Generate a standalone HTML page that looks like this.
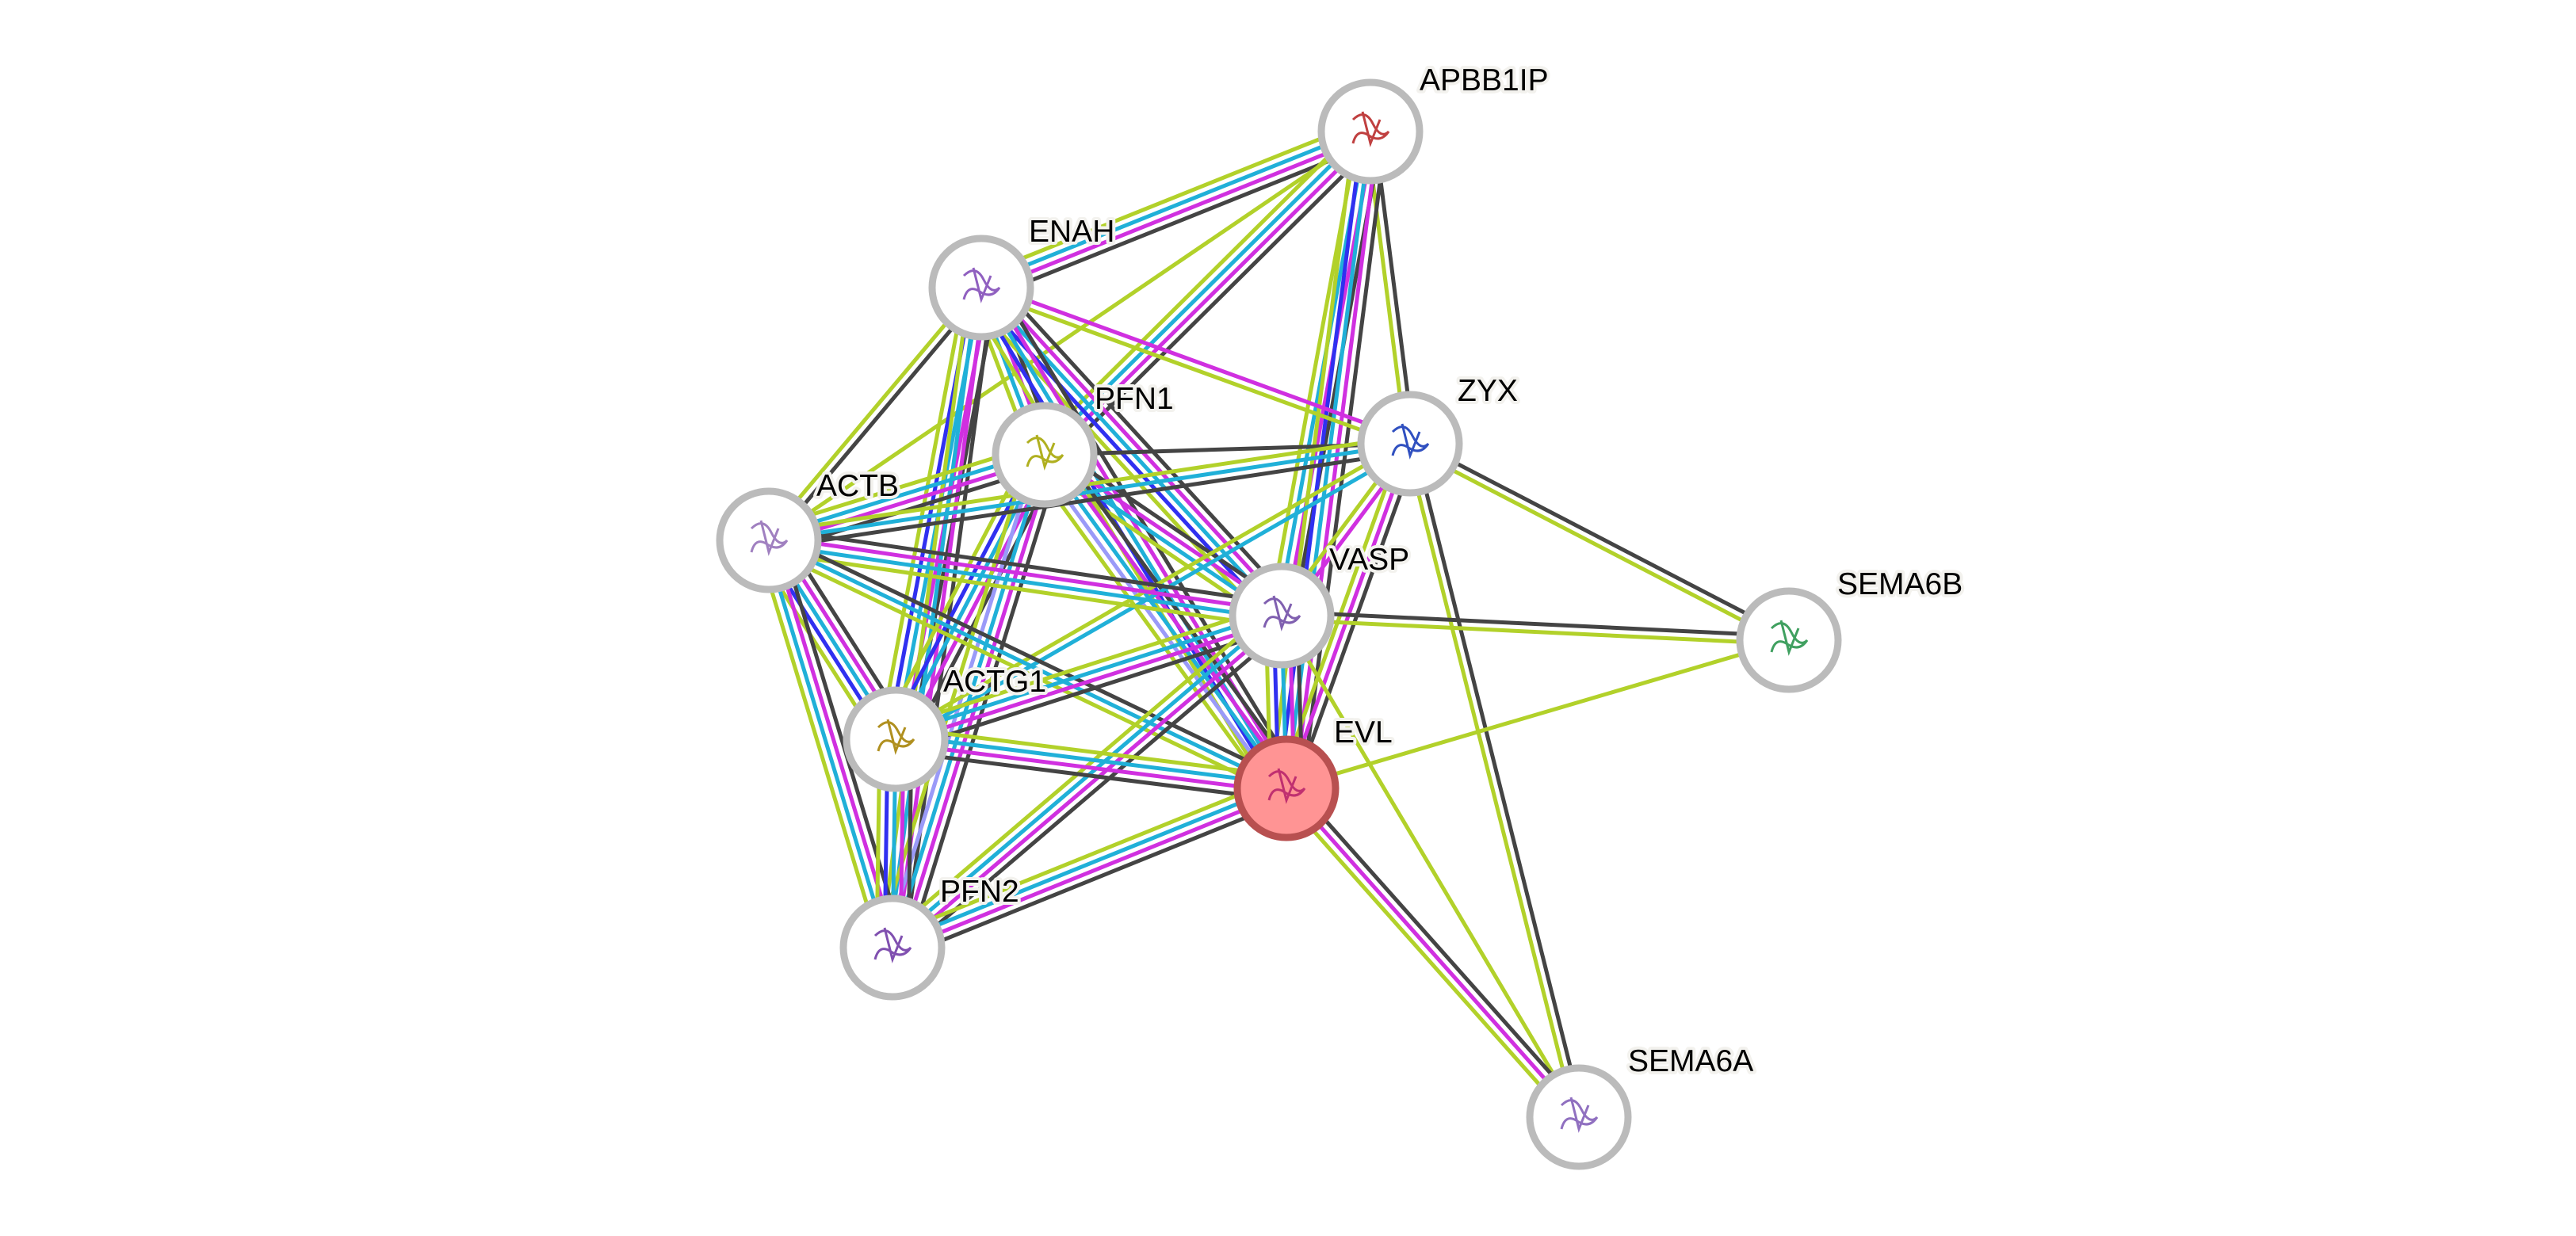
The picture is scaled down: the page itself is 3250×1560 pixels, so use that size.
<!DOCTYPE html>
<html><head><meta charset="utf-8"><style>
html,body{margin:0;padding:0;background:#fff;width:3250px;height:1560px;overflow:hidden}
svg{display:block}
text{font-family:"Liberation Sans",sans-serif;font-size:39px;fill:#000;paint-order:stroke;stroke:#f3f2ee;stroke-width:8px;stroke-linejoin:round}
</style></head><body>
<svg id="s" width="3250" height="1560" xmlns="http://www.w3.org/2000/svg">
<g id="edges"></g><g id="nodes"></g><g id="labels"></g>
</svg>
<script>
var N={APBB1IP:[1729,166],ENAH:[1238,363],PFN1:[1318,574],ZYX:[1779,560],ACTB:[970,682],VASP:[1617,777],SEMA6B:[2257,808],ACTG1:[1130,933],EVL:[1623,995],PFN2:[1126,1196],SEMA6A:[1992,1410]};
var C={k:"#444",m:"#d030e0",c:"#20b0d8",g:"#b2d12a",b:"#3030f0",l:"#9a9af8"};
var E=[
["APBB1IP","ENAH","kmcg"],["APBB1IP","ACTB","g"],["APBB1IP","PFN1","kmcg"],["APBB1IP","ZYX","kg"],
["APBB1IP","VASP","kmcg"],["APBB1IP","EVL","kmcbg"],
["ENAH","ZYX","mg"],["ENAH","ACTB","kg"],["ENAH","PFN1","kmcg"],["ENAH","VASP","kmcbg"],["ENAH","EVL","kmcbg"],
["ENAH","ACTG1","kmcbg"],["ENAH","PFN2","kmcg"],
["PFN1","ZYX","k"],["PFN1","ACTB","kmcg"],["PFN1","VASP","kmcg"],["PFN1","EVL","kmclg"],["PFN1","ACTG1","kmcbg"],["PFN1","PFN2","kmclg"],
["ZYX","ACTB","kcg"],["ZYX","VASP","mg"],["ZYX","EVL","kmg"],["ZYX","SEMA6B","kg"],["ZYX","SEMA6A","kg"],["ZYX","ACTG1","cg"],
["ACTB","VASP","kmcg"],["ACTB","EVL","kcg"],["ACTB","ACTG1","kmcbg"],["ACTB","PFN2","kmcg"],
["VASP","SEMA6B","kg"],["VASP","EVL","kmcbg"],["VASP","ACTG1","kmcg"],["VASP","PFN2","kmcg"],["VASP","SEMA6A","g"],
["EVL","SEMA6B","g"],["EVL","SEMA6A","kmg"],["EVL","ACTG1","kmcg"],["EVL","PFN2","kmcg"],
["ACTG1","PFN2","kmcbg"]];
var eg=document.getElementById("edges"),h="";
E.forEach(function(e){var a=N[e[0]],b=N[e[1]],dx=b[0]-a[0],dy=b[1]-a[1],L=Math.hypot(dx,dy),px=-dy/L,py=dx/L,n=e[2].length,sp=10;
for(var i=0;i<n;i++){var o=(i-(n-1)/2)*sp;
h+='<line x1="'+(a[0]+px*o)+'" y1="'+(a[1]+py*o)+'" x2="'+(b[0]+px*o)+'" y2="'+(b[1]+py*o)+'" stroke="'+C[e[2][i]]+'" stroke-width="5"/>';}});
eg.innerHTML=h;
var nh="",lh="";
var pc={APBB1IP:"#c04040",ENAH:"#9060c0",PFN1:"#b0b020",ZYX:"#3050c0",ACTB:"#a080c0",VASP:"#8060b0",SEMA6B:"#40a060",ACTG1:"#b09020",EVL:"#c03070",PFN2:"#8050b0",SEMA6A:"#9070c0"};
for(var k in N){var p=N[k];
if(k=="EVL")nh+='<circle cx="'+p[0]+'" cy="'+p[1]+'" r="62" fill="#ff9494" stroke="#b85050" stroke-width="9"/>';
else nh+='<circle cx="'+p[0]+'" cy="'+p[1]+'" r="62" fill="#fff" stroke="#bbb" stroke-width="9"/>';
nh+='<path d="M'+(p[0]-22)+' '+(p[1]-15)+' q15 -15 25 5 t20 10 q-10 15 -25 5 t-20 10 M'+(p[0]-10)+' '+(p[1]-25)+' l10 40 l12 -30" fill="none" stroke="'+pc[k]+'" stroke-width="3"/>';}
var LB={APBB1IP:[1791,114],ENAH:[1298,305],PFN1:[1381,516],ZYX:[1839,506],ACTB:[1030,626],VASP:[1677,719],SEMA6B:[2318,750],ACTG1:[1190,873],EVL:[1683,937],PFN2:[1186,1138],SEMA6A:[2054,1352]};
for(var k in LB)lh+='<text x="'+LB[k][0]+'" y="'+LB[k][1]+'">'+k+'</text>';
document.getElementById("nodes").innerHTML=nh;
document.getElementById("labels").innerHTML=lh;
</script>
</body></html>
